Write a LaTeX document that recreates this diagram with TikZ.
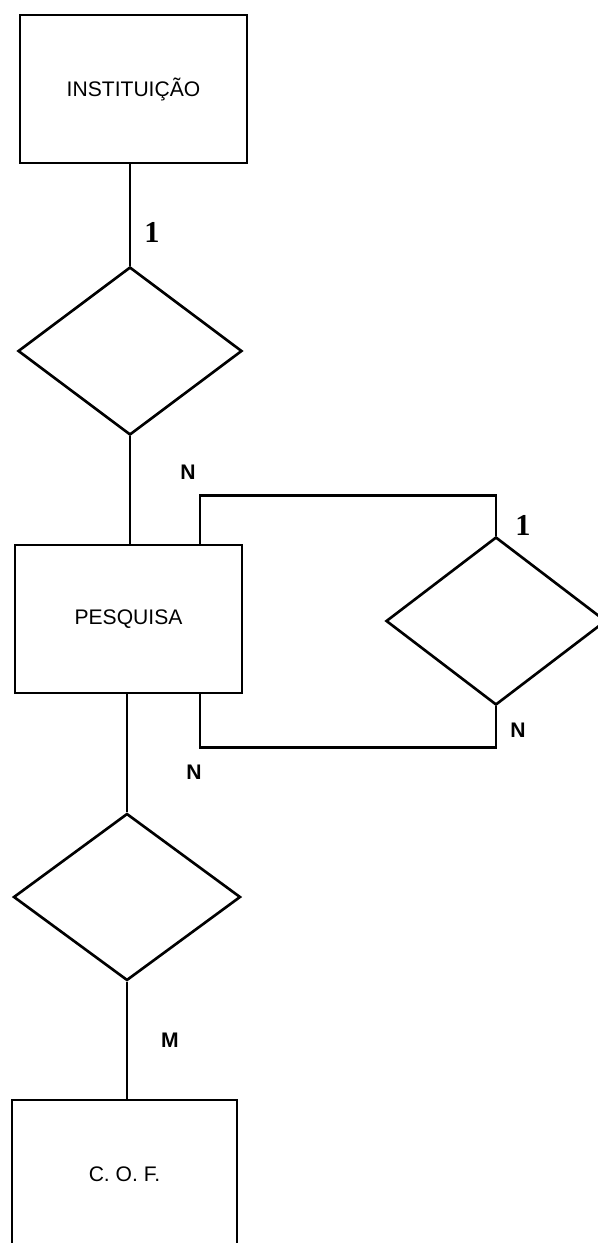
\documentclass[tikz,border=0pt]{standalone}
\usepackage{fontspec}
\setmainfont{Liberation Sans}
\newfontfamily\onefont{Liberation Serif}
\usetikzlibrary{shapes.geometric, positioning, calc}

\begin{document}
\begin{tikzpicture}[line width=1.5pt,
  box/.style={draw, rectangle, minimum width=4.54cm, minimum height=2.96cm, font=\large},
  rel/.style={draw, diamond, inner sep=0pt, minimum width=4.48cm, minimum height=3.36cm},
  card/.style={font=\large\bfseries, inner sep=0pt},
  link/.style={draw, line width=1.5pt}]
  \useasboundingbox (0,0) rectangle (11.96,-24.86);
  \clip (0,0) rectangle (11.96,-24.86);
  \node[box] (inst) at (2.67,-1.78) {INSTITUIÇÃO};
  \node[rel] (r1) at (2.60,-7.02) {};
  \node[box] (pesq) at (2.57,-12.38) {PESQUISA};
  \node[rel, minimum width=4.40cm] (r2) at (9.92,-12.42) {};
  \node[rel, minimum width=4.54cm, minimum height=3.34cm] (r3) at (2.54,-17.94) {};
  \node[box, minimum width=4.50cm] (cof) at (2.49,-23.48) {C.\ O.\ F.};
  \draw[link] (r1.north) -- (r1.north |- inst.south);
  \draw[link] (r1.south) -- (r1.south |- pesq.north);
  \draw[link] ([xshift=1.43cm]pesq.north) -- ++(0,0.96) -| (r2.north);
  \draw[link] (r2.south) -- ++(0,-0.82) -| ([xshift=1.43cm]pesq.south);
  \draw[link] (r3.north |- pesq.south) -- (r3.north);
  \draw[link] (r3.south) -- (r3.south |- cof.north);
  \node[card] (c1) at (3.04,-4.64) {\onefont\LARGE 1};
  \node[card] (c2) at (3.76,-9.44) {N};
  \node[card] (c3) at (10.46,-10.50) {\onefont\LARGE 1};
  \node[card] (c4) at (10.36,-14.60) {N};
  \node[card] (c5) at (3.88,-15.44) {N};
  \node[card] (c6) at (3.40,-20.80) {M};
\end{tikzpicture}
\end{document}
